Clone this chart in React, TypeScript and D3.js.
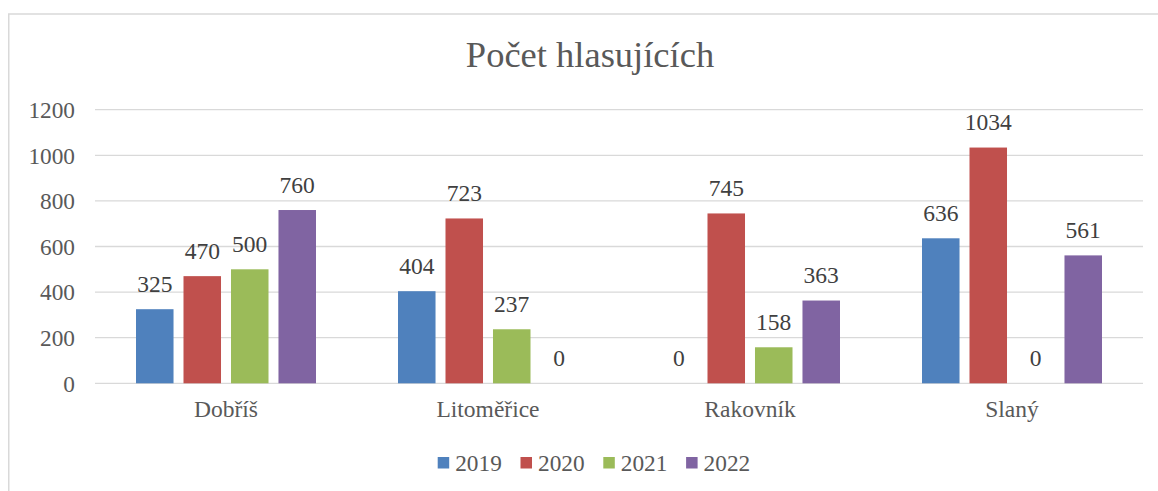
import React from "react";
import * as d3 from "d3";

const categories = ["Dobříš", "Litoměřice", "Rakovník", "Slaný"];
const seriesNames = ["2019", "2020", "2021", "2022"];
const values2019 = [325, 404, 0, 636];
const values2020 = [470, 723, 745, 1034];
const values2021 = [500, 237, 158, 0];
const values2022 = [760, 0, 363, 561];
const seriesColors = ["#4F81BD", "#C0504D", "#9BBB59", "#8064A2"];
const yTicks = [0, 200, 400, 600, 800, 1000, 1200];
const title = "Počet hlasujících";

const W = 1158;
const H = 491;
const FONT = "'Liberation Serif', 'Times New Roman', serif";

export default function App() {
  const series = [values2019, values2020, values2021, values2022];
  const plotLeft = 95;
  const plotRight = 1143;
  const plotTop = 109.7;
  const plotBottom = 383.3;

  const y = d3.scaleLinear().domain([0, 1200]).range([plotBottom, plotTop]);
  const x0 = d3
    .scaleBand<string>()
    .domain(categories)
    .range([plotLeft, plotRight])
    .paddingInner(0.313)
    .paddingOuter(0.1565);
  const x1 = d3
    .scaleBand<string>()
    .domain(seriesNames)
    .range([0, x0.bandwidth()])
    .paddingInner(0.21)
    .paddingOuter(0);

  const legendX0 = 437.7;
  const legendStep = 82.8;

  return (
    <svg
      width={W}
      height={H}
      style={{ position: "absolute", left: 0, top: 0, display: "block", background: "#fff" }}
      fontFamily={FONT}
    >
      <rect x={8.75} y={14} width={1170} height={500} fill="#fff" stroke="#D9D9D9" strokeWidth={1.5} />
      <text x={590} y={67} textAnchor="middle" fontSize={36.5} fill="#595959">
        {title}
      </text>
      {yTicks.map((t) => (
        <g key={t}>
          <line x1={plotLeft} x2={plotRight} y1={y(t)} y2={y(t)} stroke="#D9D9D9" strokeWidth={1.3} />
          <text x={75} y={y(t) + 8.3} textAnchor="end" fontSize={23.3} fill="#595959">
            {t}
          </text>
        </g>
      ))}
      {categories.map((c, ci) => (
        <g key={c}>
          {series.map((vals, si) => {
            const bx = (x0(c) as number) + (x1(seriesNames[si]) as number);
            const v = vals[ci];
            return (
              <g key={si}>
                {v > 0 && (
                  <rect
                    x={bx}
                    y={y(v)}
                    width={x1.bandwidth()}
                    height={y(0) - y(v)}
                    fill={seriesColors[si]}
                  />
                )}
                <text
                  x={bx + x1.bandwidth() / 2}
                  y={y(v) - 17.5}
                  textAnchor="middle"
                  fontSize={23.5}
                  fill="#404040"
                >
                  {v}
                </text>
              </g>
            );
          })}
          <text
            x={(x0(c) as number) + x0.bandwidth() / 2}
            y={417}
            textAnchor="middle"
            fontSize={23.5}
            fill="#595959"
          >
            {c}
          </text>
        </g>
      ))}
      {seriesNames.map((s, si) => (
        <g key={s} transform={`translate(${legendX0 + si * legendStep},0)`}>
          <rect x={0} y={457} width={11.5} height={11.5} fill={seriesColors[si]} />
          <text x={17.5} y={470.5} fontSize={23.3} fill="#595959">
            {s}
          </text>
        </g>
      ))}
    </svg>
  );
}
